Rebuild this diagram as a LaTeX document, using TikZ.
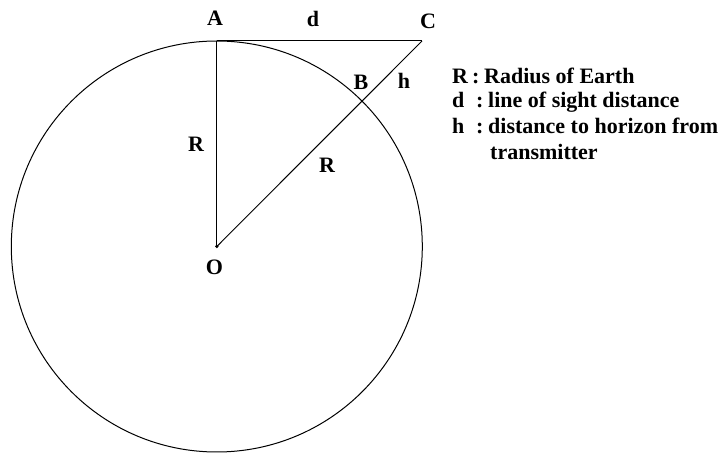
\documentclass[tikz,border=0pt]{standalone}
\usepackage{fontspec}
\setmainfont{Liberation Serif}
\begin{document}
\begin{tikzpicture}[x=1pt,y=-1pt,
  lbl/.style={font=\fontsize{22}{25}\selectfont\bfseries, inner sep=0pt, anchor=base, text=black},
  key/.style={lbl, anchor=base west},
  geo/.style={line width=1pt, draw=black}]
\useasboundingbox (0,0) rectangle (721,454);
\coordinate (O) at (216.8,246.5);
\coordinate (A) at (216.8,41);
\coordinate (C) at (422,41);
\draw[geo] (O) circle[radius=205.5];
\draw[geo] (A) -- (C);
\draw[geo] (A) -- (O);
\draw[geo] (O) -- (C);
\fill (O) circle[radius=1.8];
\node[lbl] (lA) at (215,26) {A};
\node[lbl] (ld) at (313,27) {d};
\node[lbl] (lC) at (428,29) {C};
\node[lbl] (lB) at (361,90) {B};
\node[lbl] (lh) at (404,89) {h};
\node[lbl] (lR1) at (196,152) {R};
\node[lbl] (lR2) at (327,173) {R};
\node[lbl] (lO) at (214.5,275) {O};
\node[key] (k1) at (452,84) {\makebox[20pt][l]{R}\makebox[12pt][l]{:}Radius of Earth};
\node[key] (k2) at (452,108) {\makebox[24pt][l]{d}\makebox[12pt][l]{:}line of sight distance};
\node[key] (k3) at (452,134) {\makebox[24pt][l]{h}\makebox[12pt][l]{:}distance to horizon from};
\node[key] (k4) at (490,160) {transmitter};
\end{tikzpicture}
\end{document}
